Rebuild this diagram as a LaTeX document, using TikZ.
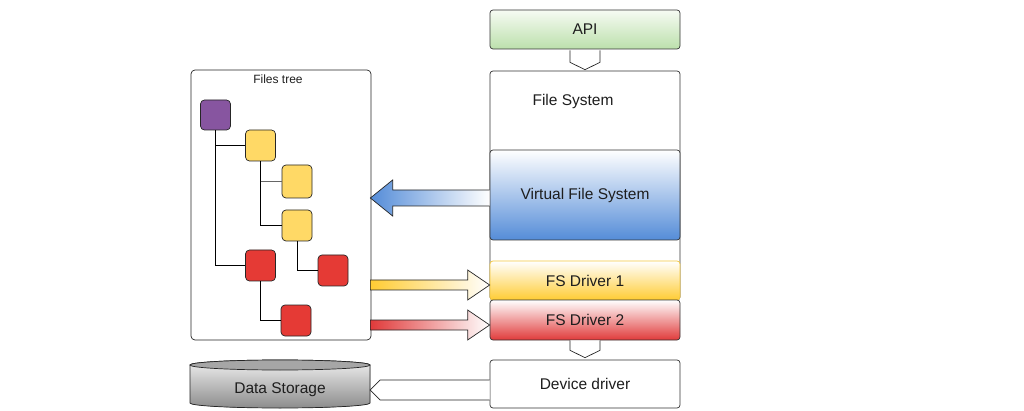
\documentclass[tikz,border=0pt]{standalone}
\usepackage{fontspec}
\setmainfont{Liberation Sans}
\usetikzlibrary{calc}
\definecolor{apigreen}{RGB}{188,224,172}
\definecolor{apitop}{RGB}{246,251,243}
\definecolor{vfsblue}{RGB}{84,140,216}
\definecolor{drvyellow}{RGB}{255,204,51}
\definecolor{drvyellowline}{RGB}{245,200,60}
\definecolor{drvred}{RGB}{224,58,58}
\definecolor{treeyellow}{RGB}{255,217,102}
\definecolor{treered}{RGB}{229,58,53}
\definecolor{treepurple}{RGB}{135,85,160}
\definecolor{txt}{RGB}{30,30,30}
\begin{document}
\begin{tikzpicture}[x=1pt,y=-1pt,
  box/.style={draw=black!80, rounded corners=3pt, line width=0.7pt, inner sep=0pt,
    font=\fontsize{15.5}{17}\selectfont, text=txt},
  tnode/.style={draw=black!85, rounded corners=4pt, line width=0.7pt, inner sep=0pt,
    minimum width=30pt, minimum height=31pt},
  conn/.style={draw=black!85, line width=0.7pt, fill=white, line join=miter},
  treeline/.style={draw=black, line width=0.7pt},
  bigarrow/.style={draw=black!85, line width=0.7pt, line join=miter},
  lbl/.style={font=\fontsize{15.5}{17}\selectfont, text=txt, inner sep=0pt}]
\useasboundingbox[fill=white] (0,0) rectangle (1024,411);

% right stack
\node[box, minimum width=190pt, minimum height=39pt, top color=apitop, bottom color=apigreen] (api) at (585,29.5) {API};
\node[box, minimum width=190pt, minimum height=229pt, fill=white] (fs) at (585,185.5) {};
\node[lbl] (fslabel) at (573,101) {File System};
\node[box, minimum width=190pt, minimum height=90pt, top color=white, bottom color=vfsblue] (vfs) at (585,195) {Virtual File System};
\node[box, draw=drvyellowline, minimum width=190pt, minimum height=39pt, top color=white, bottom color=drvyellow] (fs1) at (585,280.5) {FS Driver 1};
\node[box, minimum width=190pt, minimum height=40pt, top color=white, bottom color=drvred] (fs2) at (585,320) {FS Driver 2};
\node[box, minimum width=190pt, minimum height=48pt, fill=white] (dd) at (585,384) {Device driver};

% chevron connectors
\draw[conn] ($(api.south)+(-15,1)$) -- ($(api.south)+(-15,13)$) -- ($(fs.north)+(0,-1)$)
  -- ($(api.south)+(15,13)$) -- ($(api.south)+(15,1)$);
\draw[conn] ($(fs2.south)+(-15,0)$) -- ($(fs2.south)+(-15,10)$) -- ($(dd.north)+(0,-2)$)
  -- ($(fs2.south)+(15,10)$) -- ($(fs2.south)+(15,0)$);

% files tree
\node[draw=black!85, rounded corners=4pt, line width=0.7pt, minimum width=180pt, minimum height=270pt, fill=white] (tree) at (281,205) {};
\node[font=\fontsize{12}{13}\selectfont, text=txt, inner sep=0pt] (treelabel) at (278,79) {Files tree};

\node[tnode, fill=treepurple, minimum height=30pt] (p) at (215.5,115) {};
\node[tnode, fill=treeyellow] (y1) at (260.5,145.5) {};
\node[tnode, fill=treeyellow, minimum height=33pt] (y2) at (297,181.5) {};
\node[tnode, fill=treeyellow] (y3) at (297,225.5) {};
\node[tnode, fill=treered] (r1) at (260.5,265.5) {};
\node[tnode, fill=treered] (r2) at (333,270.5) {};
\node[tnode, fill=treered] (r3) at (296,320.5) {};

\draw[treeline] (p.south) |- (r1.west);
\draw[treeline] (p.south |- y1.west) -- (y1.west);
\draw[treeline] (y1.south) |- (y3.west);
\draw[treeline, draw=black!60] (y1.south |- y2.west) -- (y2.west);
\draw[treeline] (y3.south) |- (r2.west);
\draw[treeline] (r1.south) |- (r3.west);

% big arrows
\draw[bigarrow, left color=vfsblue, right color=white]
  ($(vfs.west)+(0,-5)$) -- ($(vfs.west)+(-97,-5)$) -- ($(vfs.west)+(-97,-15)$)
  -- ($(tree.east |- vfs.west)+(-1,3)$)
  -- ($(vfs.west)+(-97,21)$) -- ($(vfs.west)+(-97,11)$) -- ($(vfs.west)+(0,11)$);
\draw[bigarrow, left color=drvyellow, right color=white]
  ($(tree.east |- fs1.west)+(-1,-0.5)$) -- ($(fs1.west)+(-22,-0.5)$) -- ($(fs1.west)+(-22,-10.5)$)
  -- ($(fs1.west)+(0,4.5)$)
  -- ($(fs1.west)+(-22,19.5)$) -- ($(fs1.west)+(-22,9.5)$) -- ($(tree.east |- fs1.west)+(-1,9.5)$) -- cycle;
\draw[bigarrow, left color=drvred, right color=white]
  ($(tree.east |- fs2.west)+(-1,0)$) -- ($(fs2.west)+(-22,0)$) -- ($(fs2.west)+(-22,-10)$)
  -- ($(fs2.west)+(0,5)$)
  -- ($(fs2.west)+(-22,20)$) -- ($(fs2.west)+(-22,10)$) -- ($(tree.east |- fs2.west)+(-1,10)$) -- cycle;

% data storage cylinder
\fill[top color=black!6, bottom color=black!45, draw=black!85, line width=0.7pt]
  (190,365) -- (190,403) arc[start angle=180, end angle=360, x radius=90pt, y radius=5pt]
  -- (370,365) arc[start angle=0, end angle=180, x radius=90pt, y radius=5pt] -- cycle;
\draw[fill=black!35, draw=black!85, line width=0.7pt] (280,365) ellipse[x radius=90pt, y radius=5pt];
\node[lbl, minimum width=180pt, minimum height=30pt] (ds) at (280,390) {Data Storage};

% device driver to data storage
\draw[conn] ($(dd.west)+(0,-4)$) -- ($(ds.east)+(10,-10)$) -- (ds.east)
  -- ($(ds.east)+(10,10)$) -- ($(dd.west)+(0,16)$);
\end{tikzpicture}
\end{document}
